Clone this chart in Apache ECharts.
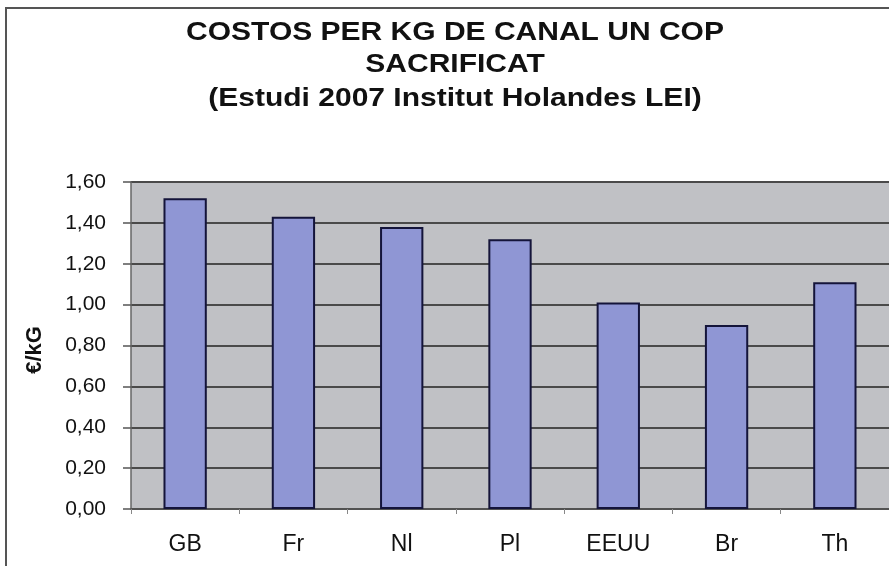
<!DOCTYPE html>
<html><head><meta charset="utf-8">
<script src="https://cdn.jsdelivr.net/npm/echarts@6/dist/echarts.min.js"></script>
<style>html,body{margin:0;padding:0;background:#fff}#c{width:889px;height:566px}</style>
</head><body><div id="c"></div>
<script>
const titleLines = ['COSTOS PER KG DE CANAL UN COP', 'SACRIFICAT', '(Estudi 2007 Institut Holandes LEI)'];
const categories = ['GB', 'Fr', 'Nl', 'Pl', 'EEUU', 'Br', 'Th'];
const values = [1.52, 1.43, 1.38, 1.32, 1.01, 0.90, 1.11];
const yName = '€/kG';

const chart = echarts.init(document.getElementById('c'), null, {renderer: 'canvas'});
const F = '"Liberation Sans", Arial, sans-serif';
const titleY = [33, 65, 99];
chart.setOption({
  animation: false,
  graphic: [
    {type: 'rect', shape: {x: 6, y: 8, width: 900, height: 600}, style: {fill: 'none', stroke: '#555', lineWidth: 2}, z: 0},
    ...titleLines.map((t, i) => ({type: 'text', x: 455, y: titleY[i], scaleX: 1.2, style: {text: t, font: 'bold 25px ' + F, fill: '#111', textAlign: 'center', textVerticalAlign: 'middle'}}))
  ],
  grid: {left: 131, right: -5, top: 182, bottom: 57, show: true, backgroundColor: '#c0c1c5', borderWidth: 0},
  xAxis: {
    type: 'category', data: categories,
    axisLine: {lineStyle: {color: '#555', width: 1.5}},
    axisTick: {show: true, length: 5, lineStyle: {color: '#888'}},
    axisLabel: {color: '#111', fontSize: 23, fontFamily: F, margin: 24}
  },
  yAxis: {
    type: 'value', min: 0, max: 1.6, interval: 0.2,
    name: yName, nameLocation: 'middle', nameGap: 85,
    nameTextStyle: {fontWeight: 'bold', fontSize: 22, fontFamily: F, color: '#111', padding: [0, 9, 0, 0]},
    axisLine: {show: true, lineStyle: {color: '#666', width: 1.5}},
    axisTick: {show: true, length: 8, lineStyle: {color: '#555', width: 1.5}},
    axisLabel: {color: '#111', fontSize: 21, fontFamily: F, margin: 25, formatter: v => v.toFixed(2).replace('.', ',')},
    splitLine: {lineStyle: {color: '#4a4a4a', width: 1.8}}
  },
  series: [{
    type: 'bar', data: values, barCategoryGap: '60%',
    itemStyle: {color: '#8f96d4', borderColor: '#14143a', borderWidth: 2}
  }]
});
</script></body></html>
